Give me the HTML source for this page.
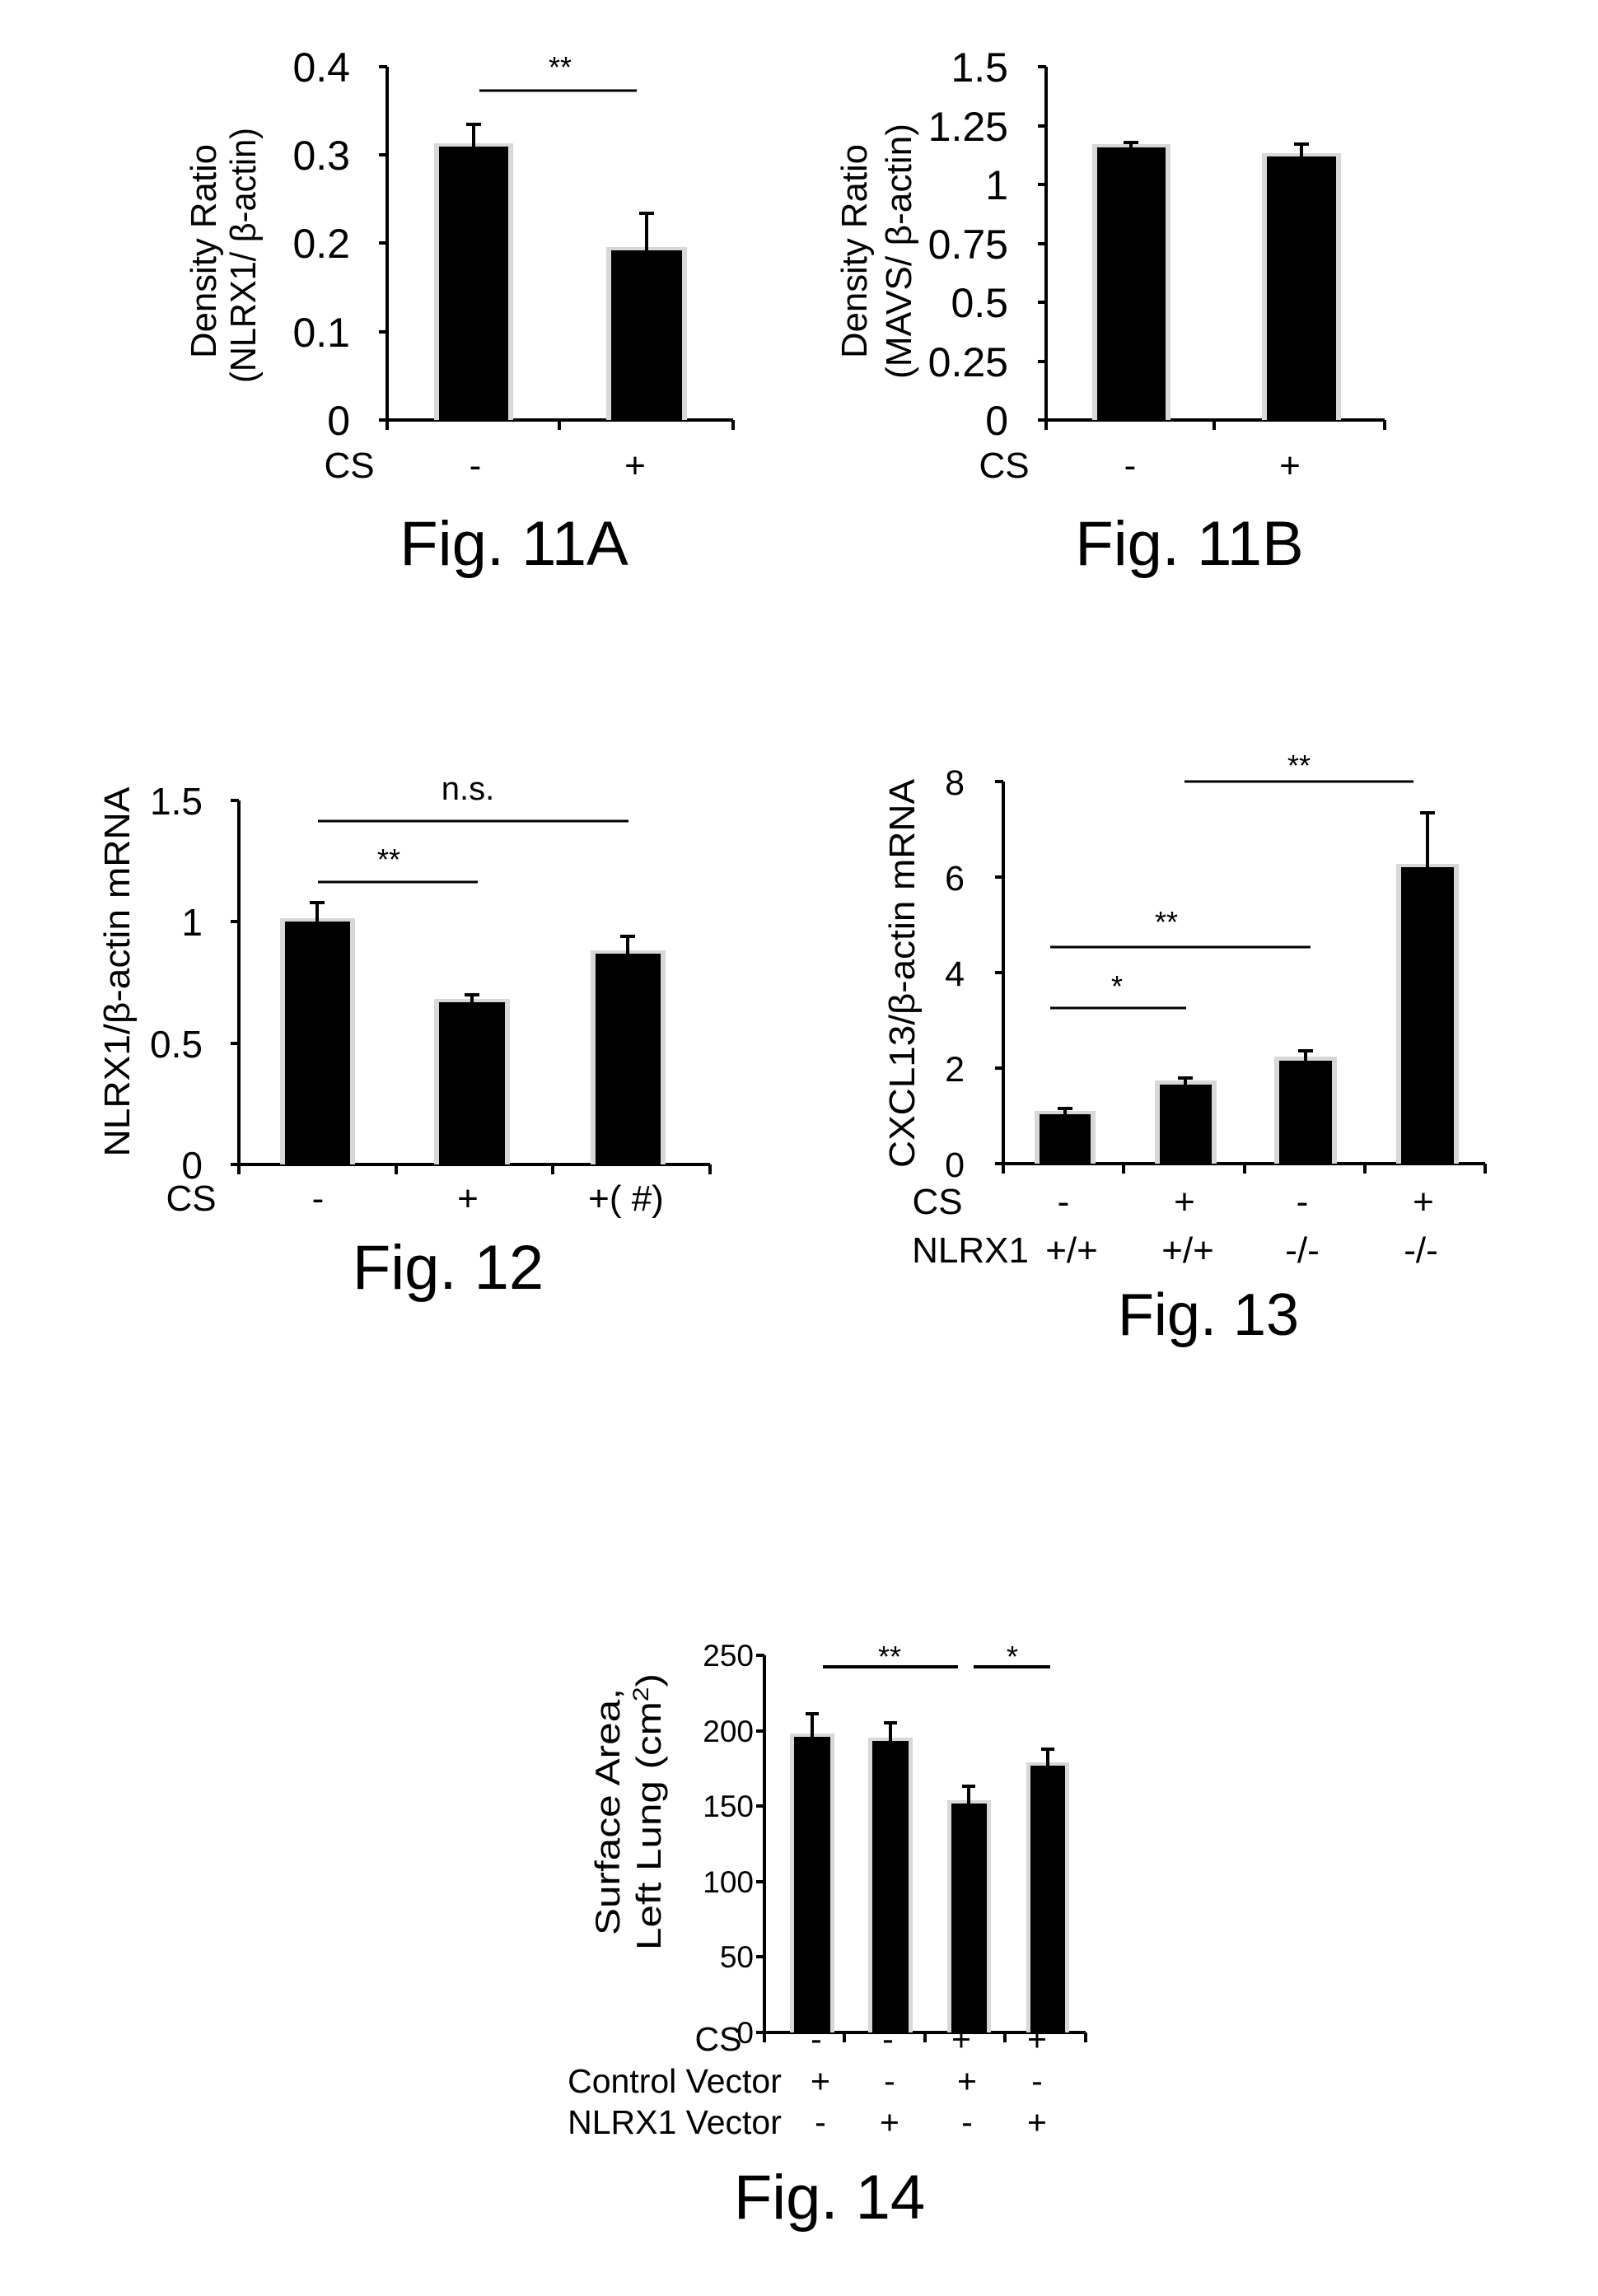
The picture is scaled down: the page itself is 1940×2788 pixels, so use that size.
<!DOCTYPE html>
<html><head><meta charset="utf-8"><style>
html,body{margin:0;padding:0;background:#fff}
svg{display:block}
text{font-family:"Liberation Sans",Arial,sans-serif;fill:#000}
</style></head><body>
<svg width="1940" height="2788" viewBox="0 0 1940 2788" xmlns="http://www.w3.org/2000/svg">
<g stroke="#000" fill="none" stroke-width="4">
<!-- 11A axes -->
<path d="M470 81 V510 H890"/>
<path d="M460 81H470 M460 188H470 M460 295H470 M460 403H470 M460 510H470 M470 510V522 M679 510V522 M890 510V522"/>
<!-- 11B -->
<path d="M1270 81 V510 H1681"/>
<path d="M1260 81H1270 M1260 153H1270 M1260 224H1270 M1260 296H1270 M1260 367H1270 M1260 439H1270 M1260 510H1270 M1270 510V522 M1474 510V522 M1681 510V522"/>
<!-- 12 -->
<path d="M290 972 V1414 H862"/>
<path d="M280 972H290 M280 1119H290 M280 1267H290 M280 1414H290 M290 1414V1426 M481 1414V1426 M671 1414V1426 M862 1414V1426"/>
<!-- 13 -->
<path d="M1218 949 V1413 H1803"/>
<path d="M1208 949H1218 M1208 1065H1218 M1208 1181H1218 M1208 1297H1218 M1208 1413H1218 M1218 1413V1425 M1364 1413V1425 M1511 1413V1425 M1657 1413V1425 M1803 1413V1425"/>
<!-- 14 -->
<path d="M928 2010 V2468 H1318"/>
<path d="M918 2010H928 M918 2102H928 M918 2193H928 M918 2285H928 M918 2376H928 M918 2468H928 M928 2468V2480 M1025 2468V2480 M1123 2468V2480 M1220 2468V2480 M1318 2468V2480"/>
</g>
<!-- bar halos -->
<g fill="#d8d8d8">
<rect x="527" y="174" width="96" height="336"/><rect x="736" y="300" width="98" height="210"/>
<rect x="1326" y="175" width="95" height="335"/><rect x="1532" y="186" width="96" height="324"/>
<rect x="340" y="1115" width="91" height="299"/><rect x="527" y="1213" width="92" height="201"/><rect x="717" y="1154" width="91" height="260"/>
<rect x="1256" y="1349" width="74" height="64"/><rect x="1402" y="1312" width="75" height="101"/><rect x="1547" y="1283" width="76" height="130"/><rect x="1695" y="1049" width="76" height="364"/>
<rect x="959" y="2105" width="54" height="363"/><rect x="1054" y="2110" width="54" height="358"/><rect x="1150" y="2186" width="53" height="282"/><rect x="1246" y="2140" width="52" height="328"/>
</g>
<g fill="#000">
<rect x="533" y="178" width="84" height="332"/><rect x="742" y="304" width="86" height="206"/>
<rect x="1332" y="179" width="83" height="331"/><rect x="1538" y="190" width="84" height="320"/>
<rect x="346" y="1119" width="79" height="295"/><rect x="533" y="1217" width="80" height="197"/><rect x="723" y="1158" width="79" height="256"/>
<rect x="1262" y="1353" width="62" height="60"/><rect x="1408" y="1317" width="63" height="96"/><rect x="1553" y="1288" width="64" height="125"/><rect x="1701" y="1053" width="64" height="360"/>
<rect x="964" y="2109" width="44" height="359"/><rect x="1059" y="2114" width="44" height="354"/><rect x="1155" y="2190" width="43" height="278"/><rect x="1251" y="2144" width="42" height="324"/>
</g>
<!-- error bars -->
<g stroke="#000" stroke-width="4" fill="none">
<path d="M575 178V151 M566 151H584 M785 304V259 M776 259H794"/>
<path d="M1373 179V173 M1364 173H1382 M1580 190V175 M1571 175H1589"/>
<path d="M385 1119V1096 M376 1096H394 M573 1217V1208 M564 1208H582 M762 1158V1137 M753 1137H771"/>
<path d="M1293 1353V1346 M1284 1346H1302 M1439 1317V1309 M1430 1309H1448 M1585 1288V1276 M1576 1276H1594 M1733 1053V987 M1724 987H1742"/>
<path d="M986 2109V2081 M978 2081H994 M1081 2114V2092 M1073 2092H1089 M1176 2190V2169 M1168 2169H1184 M1272 2144V2124 M1264 2124H1280"/>
</g>
<!-- significance lines -->
<g stroke="#000" stroke-width="3">
<path d="M582 110H773"/>
<path d="M386 997H763 M386 1071H580"/>
<path d="M1438 949H1716 M1275 1150H1591 M1275 1224H1440"/>
<path d="M999 2024H1163 M1182 2024H1275" stroke-width="4"/>
</g>
<g font-size="36" text-anchor="middle">
<text x="680" y="94">**</text>
<text x="472" y="1056">**</text>
<text x="1577" y="942">**</text><text x="1416" y="1132">**</text><text x="1356" y="1210">*</text>
<text x="1080" y="2024">**</text><text x="1229" y="2024">*</text>
<text x="568" y="971" font-size="40">n.s.</text>
</g>
<!-- tick labels -->
<g font-size="50" text-anchor="end">
<text x="425" y="99">0.4</text><text x="425" y="206">0.3</text><text x="425" y="313">0.2</text><text x="425" y="421">0.1</text><text x="425" y="528">0</text>
<text x="1224" y="99">1.5</text><text x="1224" y="171">1.25</text><text x="1224" y="242">1</text><text x="1224" y="314">0.75</text><text x="1224" y="385">0.5</text><text x="1224" y="457">0.25</text><text x="1224" y="528">0</text>
</g>
<g font-size="46" text-anchor="end">
<text x="246" y="989">1.5</text><text x="246" y="1136">1</text><text x="246" y="1284">0.5</text><text x="246" y="1431">0</text>
</g>
<g font-size="43" text-anchor="end">
<text x="1171" y="965">8</text><text x="1171" y="1081">6</text><text x="1171" y="1197">4</text><text x="1171" y="1313">2</text><text x="1171" y="1429">0</text>
</g>
<g font-size="37" text-anchor="end">
<text x="915" y="2023">250</text><text x="915" y="2115">200</text><text x="915" y="2206">150</text><text x="915" y="2298">100</text><text x="915" y="2389">50</text><text x="915" y="2481">0</text>
</g>
<!-- y axis labels -->
<g font-size="44" text-anchor="middle">
<text transform="translate(262,305) rotate(-90)" textLength="260" lengthAdjust="spacingAndGlyphs">Density Ratio</text>
<text transform="translate(310,310) rotate(-90)" textLength="310" lengthAdjust="spacingAndGlyphs">(NLRX1/ β-actin)</text>
<text transform="translate(1052,305) rotate(-90)" textLength="260" lengthAdjust="spacingAndGlyphs">Density Ratio</text>
<text transform="translate(1106,305) rotate(-90)" textLength="310" lengthAdjust="spacingAndGlyphs">(MAVS/ β-actin)</text>
<text transform="translate(157,1180) rotate(-90)" textLength="449" lengthAdjust="spacingAndGlyphs">NLRX1/β-actin mRNA</text>
<text transform="translate(1110,1182) rotate(-90)" textLength="472" lengthAdjust="spacingAndGlyphs">CXCL13/β-actin mRNA</text>
<text transform="translate(752,2200) rotate(-90)" textLength="300" lengthAdjust="spacingAndGlyphs" font-size="42">Surface Area,</text>
<text transform="translate(802,2200) rotate(-90)" textLength="336" lengthAdjust="spacingAndGlyphs" font-size="42">Left Lung (cm<tspan font-size="27" dy="-15">2</tspan><tspan dy="15">)</tspan></text>
</g>
<!-- category labels -->
<g font-size="44" text-anchor="middle">
<text x="424" y="580">CS</text><text x="577" y="580">-</text><text x="771" y="580">+</text>
<text x="1219" y="580">CS</text><text x="1372" y="580">-</text><text x="1566" y="580">+</text>
<text x="232" y="1470">CS</text><text x="386" y="1470">-</text><text x="568" y="1470">+</text><text x="760" y="1470">+( #)</text>
<text x="1138" y="1474">CS</text><text x="1291" y="1474">-</text><text x="1438" y="1474">+</text><text x="1581" y="1474">-</text><text x="1728" y="1474">+</text>
<text x="1178" y="1533">NLRX1</text><text x="1301" y="1533">+/+</text><text x="1442" y="1533">+/+</text><text x="1581" y="1533">-/-</text><text x="1725" y="1533">-/-</text>
</g>
<g font-size="41" text-anchor="middle">
<text x="872" y="2490">CS</text><text x="991" y="2490">-</text><text x="1078" y="2490">-</text><text x="1167" y="2490">+</text><text x="1259" y="2490">+</text>
<text x="819" y="2541">Control Vector</text><text x="996" y="2541">+</text><text x="1080" y="2541">-</text><text x="1174" y="2541">+</text><text x="1259" y="2541">-</text>
<text x="819" y="2591">NLRX1 Vector</text><text x="996" y="2591">-</text><text x="1080" y="2591">+</text><text x="1174" y="2591">-</text><text x="1259" y="2591">+</text>
</g>
<!-- figure titles -->
<g text-anchor="middle">
<text x="624" y="686" font-size="76">Fig. 11A</text>
<text x="1444" y="686" font-size="76">Fig. 11B</text>
<text x="544" y="1565" font-size="76">Fig. 12</text>
<text x="1467" y="1621" font-size="72">Fig. 13</text>
<text x="1007" y="2694" font-size="76">Fig. 14</text>
</g>
</svg>
</body></html>
